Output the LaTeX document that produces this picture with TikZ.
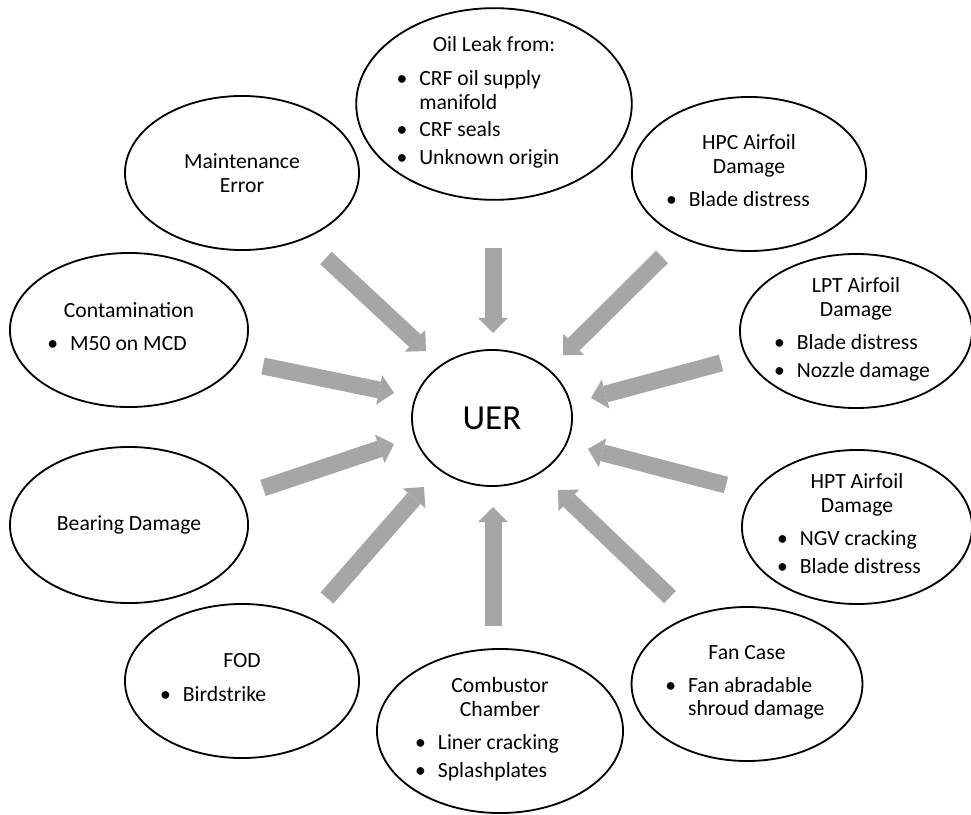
\documentclass[tikz,border=0pt]{standalone}
\usepackage{fontspec}
\setmainfont{Carlito}
\usetikzlibrary{shapes.geometric,arrows.meta}
\definecolor{arrowgray}{RGB}{166,166,166}
% bullet cell of a list row
\newcommand\bt{\makebox[1.05em][l]{\textbullet}}
% bullet list, #1 = extra space to its right (moves the list left of centre)
\newcommand\lst[2]{\begin{tabular}[t]{@{}l@{}l@{\hspace{#1}}}#2\end{tabular}}
\begin{document}
\begin{tikzpicture}[x=0.025cm,y=-0.025cm,
  bubble/.style 2 args={ellipse, draw=black, line width=1.3pt, inner sep=0pt,
    minimum width=#1*0.05cm, minimum height=#2*0.05cm,
    font=\fontsize{15.4}{16.6}\selectfont, align=center},
  fat/.style={draw=arrowgray, line width=12.1pt,
    -{Triangle[width=21.3pt,length=10.7pt,line width=0pt]}}]
\useasboundingbox (0,0) rectangle (971,814);

% central event
\node[bubble={80}{68}, font=\fontsize{25}{30}\selectfont] (uer) at (492,418) {UER};

% contributing causes
\node[bubble={136}{94}] (oil) at (494,104) {Oil Leak from:\\[8pt]
\lst{22.8pt}{\bt & CRF oil supply\\
    & manifold\\[2.8pt]
\bt & CRF seals\\[3.5pt]
\bt & Unknown origin}};

\node[bubble={117}{77}] (maint) at (242,173) {Maintenance\\Error};

\node[bubble={114}{77}] (hpc) at (749,174) {HPC Airfoil\\Damage\\[7pt]
\lst{15.6pt}{\bt & Blade distress}};

\node[bubble={116}{77}] (lpt) at (856,331) {LPT Airfoil\\Damage\\[7pt]
\lst{5.7pt}{\bt & Blade distress\\[3.3pt]
\bt & Nozzle damage}};

\node[bubble={119}{77}] (cont) at (129,330) {Contamination\\[7pt]
\lst{17pt}{\bt & M50 on MCD}};

\node[bubble={119}{78}] (bear) at (129,525) {Bearing Damage};

\node[bubble={115}{77}] (hpt) at (857,527) {HPT Airfoil\\Damage\\[7pt]
\lst{11.4pt}{\bt & NGV cracking\\[3.3pt]
\bt & Blade distress}};

\node[bubble={117}{77}] (fod) at (242,681) {FOD\\[7pt]
\lst{41pt}{\bt & Birdstrike}};

\node[bubble={123}{82}] (comb) at (500,731) {Combustor\\Chamber\\[7pt]
\lst{18.5pt}{\bt & Liner cracking\\[3.3pt]
\bt & Splashplates}};

\node[bubble={113}{77}] (fan) at (747,684) {Fan Case\\[7pt]
\lst{3pt}{\bt & Fan abradable\\
    & shroud damage}};

% arrow ends
\coordinate (oilS)   at (493,248); \coordinate (oilE)   at (493,333);
\coordinate (maintS) at (326,258); \coordinate (maintE) at (426,351);
\coordinate (hpcS)   at (662,257); \coordinate (hpcE)   at (563,355);
\coordinate (contS)  at (263,366); \coordinate (contE)  at (394,393);
\coordinate (lptS)   at (721,363); \coordinate (lptE)   at (591,398);
\coordinate (bearS)  at (263,488); \coordinate (bearE)  at (394,444);
\coordinate (hptS)   at (726,485); \coordinate (hptE)   at (588,449);
\coordinate (fodS)   at (327,598); \coordinate (fodE)   at (424,487);
\coordinate (combS)  at (493,626); \coordinate (combE)  at (493,507);
\coordinate (fanS)   at (670,597); \coordinate (fanE)   at (558,490);

\foreach \n in {oil,maint,hpc,cont,lpt,bear,hpt,fod,comb,fan}
  \draw[fat] (\n S) -- (\n E);
\end{tikzpicture}
\end{document}
